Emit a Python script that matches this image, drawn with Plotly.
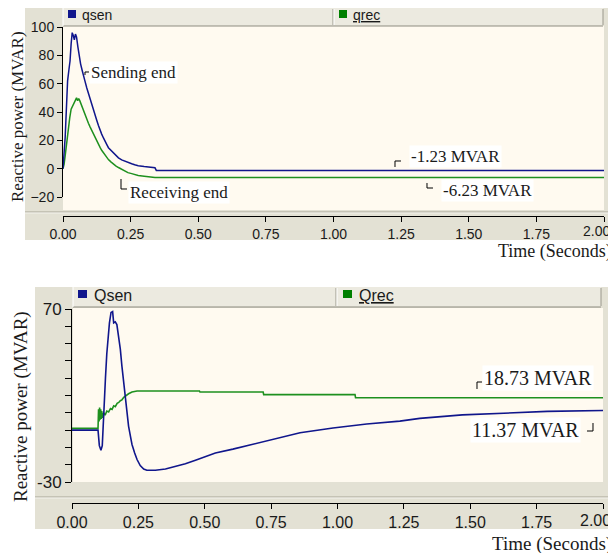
import plotly.graph_objects as go

# ---------------- data ----------------
top_t_qsen = [0, 0.004, 0.008, 0.012, 0.017, 0.022, 0.026, 0.030, 0.034, 0.038, 0.042,
              0.046, 0.050, 0.055, 0.060, 0.065, 0.070, 0.075, 0.081, 0.088, 0.094,
              0.100, 0.106, 0.112, 0.118, 0.125, 0.131, 0.137, 0.143, 0.150, 0.155,
              0.162, 0.168, 0.177, 0.186, 0.195, 0.205, 0.217, 0.229, 0.240, 0.254,
              0.265, 0.278, 0.300, 0.320, 0.340, 0.345, 2.000]
top_qsen = [0, 10, 22, 40, 62, 70, 76, 88, 96, 94, 91,
            95, 93, 86, 79, 74, 70, 67, 62, 57, 53,
            49, 45, 41, 37.6, 34, 30.4, 27, 24.4, 21.5, 19.1,
            17, 14.8, 13, 11.2, 9.3, 7.6, 6.2, 5.2, 4.2, 3.5,
            2.8, 2.1, 1.5, 1.0, 0.6, -1.23, -1.23]

top_t_qrec = [0, 0.004, 0.008, 0.012, 0.016, 0.020, 0.025, 0.030, 0.035, 0.040, 0.045,
              0.050, 0.054, 0.058, 0.062, 0.066, 0.070, 0.075, 0.081, 0.088, 0.094,
              0.100, 0.106, 0.112, 0.118, 0.125, 0.131, 0.137, 0.143, 0.150, 0.155,
              0.162, 0.168, 0.177, 0.186, 0.195, 0.205, 0.217, 0.229, 0.240, 0.254,
              0.265, 0.278, 0.300, 0.320, 0.335, 0.340, 2.000]
top_qrec = [0, 3, 9, 16, 21, 28, 36, 42, 44, 45, 47,
            50, 48, 49.5, 48, 46, 43, 41, 38, 35, 32,
            29.5, 27, 24.5, 22, 19.6, 17.3, 15, 13, 11, 9.5,
            8, 6.4, 4.8, 3.2, 2, 0.8, -0.5, -1.8, -2.8, -3.5,
            -4.2, -4.8, -5.3, -5.6, -5.8, -6.23, -6.23]

bot_t_qsen = [0, 0.098, 0.103, 0.109, 0.114, 0.117, 0.122, 0.126, 0.131, 0.136, 0.141,
              0.147, 0.153, 0.157, 0.163, 0.169, 0.176, 0.182, 0.188, 0.195, 0.201,
              0.207, 0.213, 0.220, 0.226, 0.236, 0.245, 0.257, 0.270, 0.282, 0.314,
              0.352, 0.389, 0.427, 0.465, 0.502, 0.540, 0.606, 0.734, 0.859, 0.983,
              1.110, 1.235, 1.310, 1.470, 1.600, 1.790, 2.000]
bot_qsen = [0, 0, -9, -11.6, -9, 2.3, 17.8, 30, 44, 54, 62,
            68, 68.5, 62, 62.6, 61, 54.5, 46.8, 37, 27.4, 17.8,
            10, 2.3, -3.5, -8.3, -13.2, -17, -20.5, -22.5, -23.2, -23.2,
            -22.5, -21, -19.4, -17.4, -15.5, -13.2, -11, -6, -1.5, 1.2,
            3.5, 5.2, 6.8, 8.8, 9.5, 10.8, 11.37]

bot_t_qrec = [0, 0.098, 0.100, 0.102, 0.104, 0.106, 0.108, 0.110, 0.112, 0.114, 0.116,
              0.118, 0.122, 0.126, 0.131, 0.138, 0.145, 0.151, 0.157, 0.163, 0.170,
              0.176, 0.182, 0.188, 0.195, 0.201, 0.213, 0.226, 0.238, 0.245, 0.480,
              0.482, 0.720, 0.722, 1.066, 1.068, 2.000]
bot_qrec = [1, 1, 12, 5, 13, 6, 12, 6.5, 11, 7, 10,
            8, 9.5, 9, 11, 10.5, 12.5, 12, 14, 13.5, 15.5,
            16, 17, 17.5, 19, 19.8, 21, 22, 22.5, 22.6, 22.6,
            22.0, 22.0, 20.5, 20.5, 18.73, 18.73]

time_ticks = [0, 0.25, 0.5, 0.75, 1.0, 1.25, 1.5, 1.75, 2.0]
time_labels = ["0.00", "0.25", "0.50", "0.75", "1.00", "1.25", "1.50", "1.75", ""]
last_time_label = "2.00"   # drawn pulled in from the window edge, as in the reference
top_yticks = [-20, 0, 20, 40, 60, 80, 100]
bot_yticks = [-30, -20, -10, 0, 10, 20, 30, 40, 50, 60, 70]
bot_ylabels = ["-30", "", "", "", "", "", "", "", "", "", "70"]

# ---------------- styling ----------------
OFF = 8                      # page body margin of the html page
W, H = 616 - OFF, 553 - OFF  # figure fills the rest of the window
NAVY = "#10168C"
GREEN = "#1E901E"
GRAY = "#E3E1D4"
BAR = "#ECEAE0"
CREAM = "#FFFAF0"
EDGE = "#A6A497"
SANS = "Liberation Sans"
SERIF = "Liberation Serif"
TXT = "#1a1a1a"


def X(p):
    return (p - OFF) / W


def Y(p):
    return 1 - (p - OFF) / H


def rect(x0, y0, x1, y1, fill):
    return dict(type="rect", xref="paper", yref="paper", x0=X(x0), x1=X(x1), y0=Y(y1), y1=Y(y0),
                fillcolor=fill, line=dict(width=0, color=fill), layer="below")


def seg(x0, y0, x1, y1, color=EDGE, width=1):
    return dict(type="line", xref="paper", yref="paper", x0=X(x0), x1=X(x1), y0=Y(y0), y1=Y(y1),
                line=dict(color=color, width=width), layer="below")


def path(points, color="#000", width=1):
    d = "M " + " L ".join(f"{X(a):.5f},{Y(b):.5f}" for a, b in points)
    return dict(type="path", xref="paper", yref="paper", path=d,
                line=dict(color=color, width=width), layer="above")


fig = go.Figure()
fig.add_trace(go.Scatter(x=top_t_qrec, y=top_qrec, mode="lines", line=dict(color=GREEN, width=1.5),
                         xaxis="x", yaxis="y", showlegend=False, hoverinfo="skip"))
fig.add_trace(go.Scatter(x=top_t_qsen, y=top_qsen, mode="lines", line=dict(color=NAVY, width=1.5),
                         xaxis="x", yaxis="y", showlegend=False, hoverinfo="skip"))
fig.add_trace(go.Scatter(x=bot_t_qrec, y=bot_qrec, mode="lines", line=dict(color=GREEN, width=1.6),
                         xaxis="x2", yaxis="y2", showlegend=False, hoverinfo="skip"))
fig.add_trace(go.Scatter(x=bot_t_qsen, y=bot_qsen, mode="lines", line=dict(color=NAVY, width=1.6),
                         xaxis="x2", yaxis="y2", showlegend=False, hoverinfo="skip"))

common_ax = dict(showgrid=False, zeroline=False, showline=True, linecolor="#000", linewidth=1,
                 ticks="outside", tickcolor="#000", fixedrange=True, automargin=False,
                 ticklabeloverflow="allow")

shapes = [
    # top panel
    rect(25, 8, 616, 240, GRAY),
    rect(63, 26, 604, 210, CREAM),
    rect(63, 8, 603, 26, BAR),
    seg(63, 26, 603, 26, "#8E8C80"),
    seg(63, 8, 63, 26, "#FFFFFF"),
    seg(333, 9, 333, 25, "#9A988C"),
    seg(334, 9, 334, 25, "#FFFFFF"),
    seg(603, 9, 603, 25, "#9A988C"),
    seg(25, 212, 616, 212, EDGE),
    seg(25, 213, 616, 213, "#F4F3EC"),
    rect(68, 10, 76, 18, NAVY),
    rect(339, 10, 347, 18, "#008000"),
    # bottom panel
    rect(35, 287, 616, 529, GRAY),
    rect(73, 308, 603, 482, CREAM),
    rect(73, 287, 601, 307, BAR),
    seg(73, 307, 601, 307, "#8E8C80"),
    seg(73, 287, 73, 307, "#FFFFFF"),
    seg(336, 288, 336, 306, "#9A988C"),
    seg(337, 288, 337, 306, "#FFFFFF"),
    seg(601, 288, 601, 306, "#9A988C"),
    seg(35, 497, 616, 497, EDGE),
    seg(35, 498, 616, 498, "#F4F3EC"),
    rect(78, 290, 87, 298, NAVY),
    rect(343, 290, 352, 298, "#008000"),
    # annotation leaders
    path([(85, 75), (85, 72), (89, 72)]),
    path([(121, 179), (121, 189), (127, 189)]),
    path([(395, 167), (395, 161), (401, 161)]),
    path([(427, 183), (427, 188), (433, 188)]),
    path([(477, 389), (477, 382), (482, 382)]),
    path([(587, 431), (593, 431), (593, 423)]),
]


def note(text, x, y, size, family=SERIF, anchor="left", bg="#FFFFFF", angle=0, color=TXT):
    return dict(text=text, x=X(x), y=Y(y), xref="paper", yref="paper", xanchor=anchor,
                yanchor="middle", showarrow=False, textangle=angle, bgcolor=bg, borderpad=1,
                font=dict(family=family, size=size, color=color))


annotations = [
    note("Sending end", 89, 72, 17),
    note("Receiving end", 128, 192, 17),
    note("-1.23 MVAR", 409, 157, 17),
    note("-6.23 MVAR", 441, 190, 17),
    note("18.73 MVAR", 482, 378, 20),
    note("11.37 MVAR", 470, 430, 20),
    note("Reactive power (MVAR)", 18, 117, 17, anchor="center", bg="rgba(0,0,0,0)", angle=-90),
    note("Reactive power (MVAR)", 21, 407, 19, anchor="center", bg="rgba(0,0,0,0)", angle=-90),
    note("Time (Seconds)", 614, 251, 18, anchor="right", bg="rgba(0,0,0,0)"),
    note("Time (Seconds)", 614, 544, 19, anchor="right", bg="rgba(0,0,0,0)"),
    note(last_time_label, 612, 231, 14, family=SANS, anchor="right", bg="rgba(0,0,0,0)"),
    note(last_time_label, 613, 520, 16, family=SANS, anchor="right", bg="rgba(0,0,0,0)"),
    note("qsen", 80, 15, 14, family=SANS, bg="rgba(0,0,0,0)"),
    note("<u>qrec</u>", 351, 15, 14, family=SANS, bg="rgba(0,0,0,0)"),
    note("Qsen", 92, 295, 16, family=SANS, bg="rgba(0,0,0,0)"),
    note("<u>Qrec</u>", 357, 295, 16, family=SANS, bg="rgba(0,0,0,0)"),
]

fig.update_layout(
    template="none",
    width=W, height=H, autosize=False,
    margin=dict(l=0, r=0, t=0, b=0, pad=0),
    paper_bgcolor="#FFFFFF", plot_bgcolor="rgba(0,0,0,0)",
    showlegend=False,
    xaxis=dict(domain=[X(63), X(604)], range=[0, 2], anchor="free", position=Y(216),
               tickvals=time_ticks, ticktext=time_labels, ticklen=5,
               tickfont=dict(family=SANS, size=14, color=TXT), **common_ax),
    yaxis=dict(domain=[Y(197), Y(27)], range=[-20, 100], anchor="x",
               tickvals=top_yticks, ticklen=5,
               tickfont=dict(family=SANS, size=14, color=TXT), **common_ax),
    xaxis2=dict(domain=[X(72), X(603)], range=[0, 2], anchor="free", position=Y(503),
                tickvals=time_ticks, ticktext=time_labels, ticklen=5,
                tickfont=dict(family=SANS, size=16, color=TXT), **common_ax),
    yaxis2=dict(domain=[Y(482), Y(309)], range=[-30, 70], anchor="x2",
                tickvals=bot_yticks, ticktext=bot_ylabels, ticklen=6,
                tickfont=dict(family=SANS, size=17, color=TXT), **common_ax),
    shapes=shapes,
    annotations=annotations,
)

fig.write_html("out.html")
